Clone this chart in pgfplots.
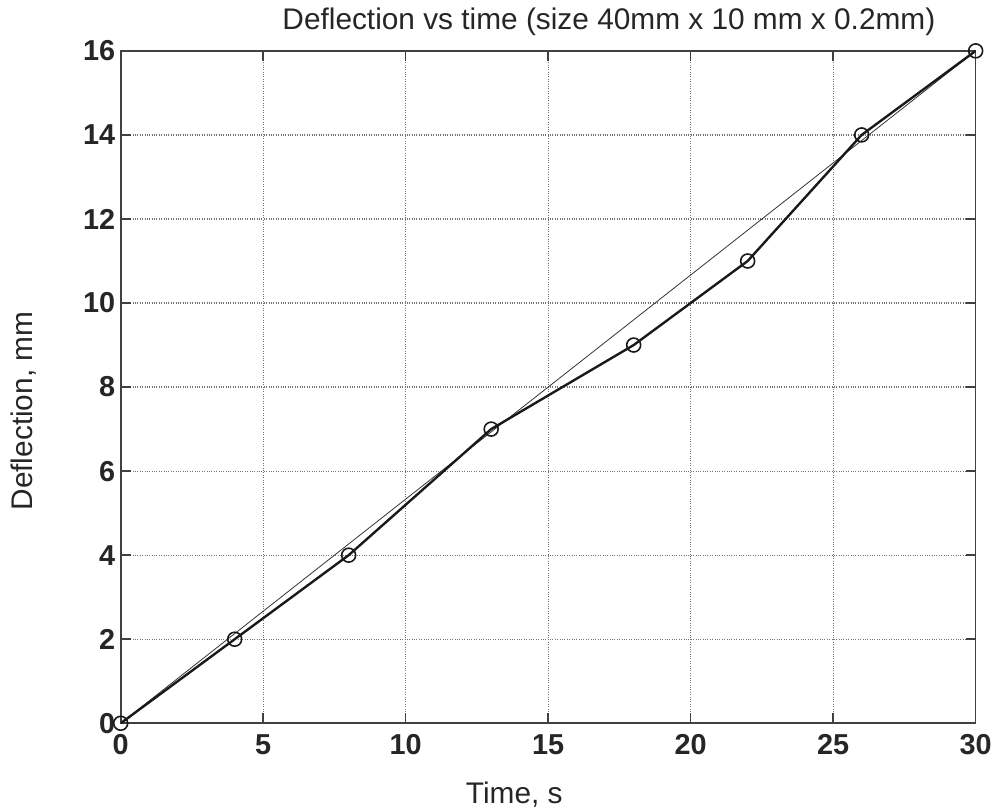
\documentclass[border=0pt]{standalone}
\usepackage{pgfplots}
\pgfplotsset{compat=1.18}
\usepackage{fontspec}
\setmainfont{Liberation Sans}

\begin{document}
\begin{tikzpicture}
\begin{axis}[
  scale only axis,
  width=857bp, height=674bp,
  xmin=0, xmax=30, ymin=0, ymax=16,
  xtick={0,5,...,30}, ytick={0,2,...,16},
  tick align=inside,
  major tick length=10bp,
  axis line style={line width=1.6pt, black!75},
  every tick/.style={line width=1.6pt, black!75},
  grid=major,
  major grid style={dotted, line width=1.2pt, black!55},
  /pgf/number format/assume math mode=true,
  ticklabel style={font=\fontsize{29}{29}\selectfont\bfseries, text=black!85},
  xticklabel style={yshift=-8bp},
  yticklabel style={xshift=-2bp},
  title={Deflection vs time (size 40mm x 10 mm x 0.2mm)},
  title style={font=\fontsize{30}{30}\selectfont, at={(0.571,1)}, anchor=south, yshift=6bp, text=black!85},
  xlabel={Time, s},
  ylabel={Deflection, mm},
  label style={font=\fontsize{30}{30}\selectfont, text=black!85},
  xlabel style={yshift=-20bp, xshift=-34bp},
  ylabel style={yshift=40bp, xshift=-24bp},
]
\addplot[black!80, line width=0.8pt] coordinates {(0,0) (30,16)};
\addplot[black!90, line width=2.4pt, mark=o, mark size=7bp, mark options={line width=1.6pt, solid}] coordinates {
  (0,0) (4,2) (8,4) (13,7) (18,9) (22,11) (26,14) (30,16)
};
\end{axis}
\path (-121bp,-85bp) rectangle (874bp,725bp);
\end{tikzpicture}
\end{document}
